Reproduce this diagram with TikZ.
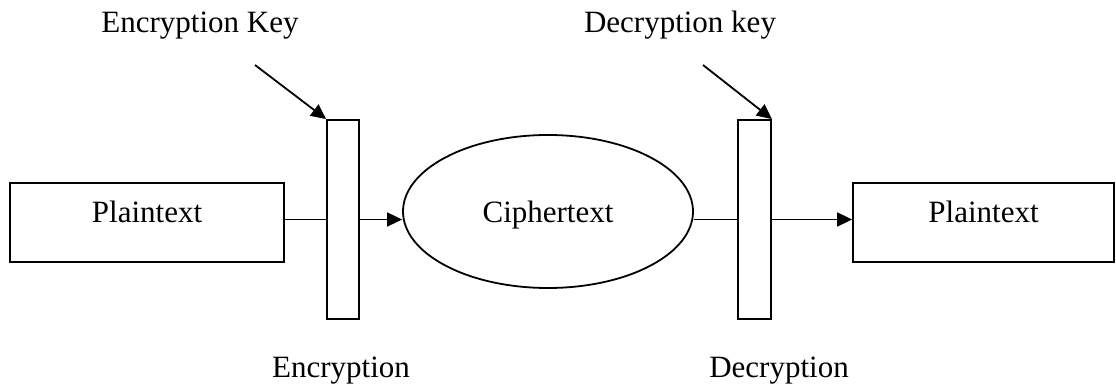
\documentclass[tikz,border=0pt]{standalone}
\usepackage{fontspec}
\setmainfont{Liberation Serif}
\usetikzlibrary{shapes.geometric,arrows.meta}

\begin{document}
\begin{tikzpicture}[x=1pt,y=1pt,line width=1.8pt,
    font=\fontsize{31}{37}\selectfont,
    box/.style={draw,inner sep=0pt,text height=40pt,text depth=39pt,anchor=base},
    bar/.style={draw,inner sep=0pt,minimum height=199pt},
    arr/.style={-{Triangle[length=15pt,width=14pt]}}]
    \useasboundingbox (0,0) rectangle (1116,388);
    % Draw nodes
    \node[box,minimum width=274pt] (plainL) at (147,165) {Plaintext};
    \node[bar,minimum width=32pt] (enc) at (343,168.5) {};
    \node[ellipse,draw,inner sep=0pt,text height=31pt,text depth=8pt,
          minimum width=290pt,minimum height=153pt] (cipher) at (548,176.5) {Ciphertext};
    \node[bar,minimum width=33pt] (dec) at (754.5,168.5) {};
    \node[box,minimum width=261pt] (plainR) at (983.5,165) {Plaintext};
    \coordinate (keyE) at (255,323);
    \coordinate (keyD) at (703,323);

    % Draw edges
    \draw (plainL.east |- enc) -- (enc);
    \draw[arr] (enc) -- (enc -| cipher.west);
    \draw (cipher.east |- dec) -- (dec);
    \draw[arr] (dec) -- (dec -| plainR.west);
    \draw[arr] (keyE) -- (enc.north west);
    \draw[arr] (keyD) -- (dec.north east);

    % Labels
    \node[anchor=base] (lblEkey) at (200,355) {Encryption Key};
    \node[anchor=base] (lblDkey) at (680,355) {Decryption key};
    \node[anchor=base] (lblEnc) at (341,10) {Encryption};
    \node[anchor=base] (lblDec) at (779,10) {Decryption};
\end{tikzpicture}
\end{document}
